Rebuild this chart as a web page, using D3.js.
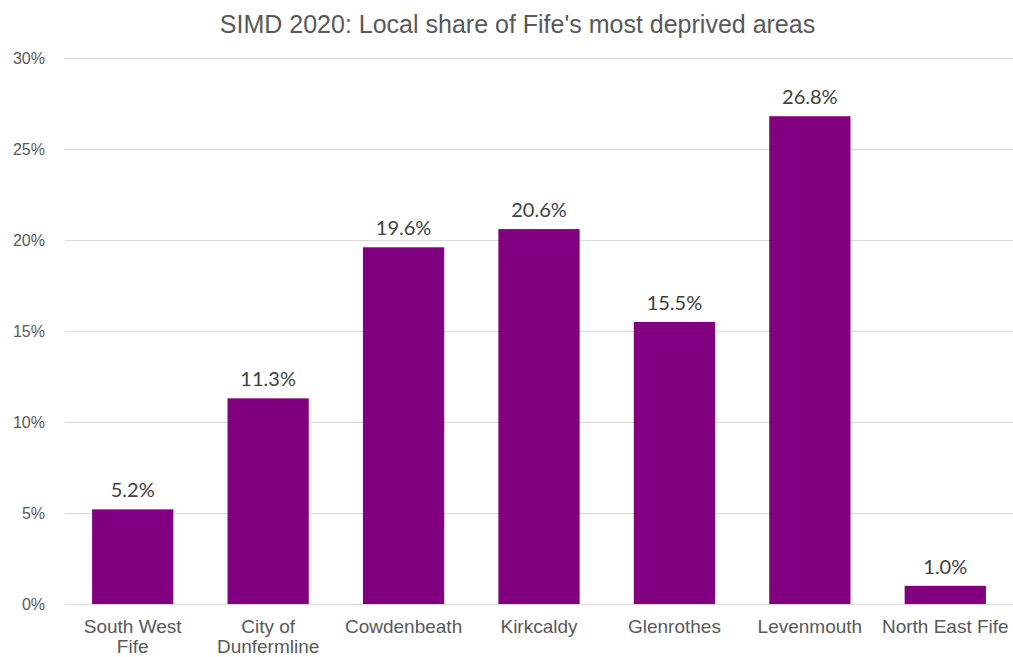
<!DOCTYPE html>
<html>
<head>
<meta charset="utf-8">
<script src="https://cdn.jsdelivr.net/npm/d3@7"></script>
<style>
  body { margin: 0; background: #fff; }
</style>
</head>
<body>
<div id="chart"></div>
<script>
const areas = ["South West Fife", "City of Dunfermline", "Cowdenbeath", "Kirkcaldy", "Glenrothes", "Levenmouth", "North East Fife"];
const areaLines = [["South West", "Fife"], ["City of", "Dunfermline"], ["Cowdenbeath"], ["Kirkcaldy"], ["Glenrothes"], ["Levenmouth"], ["North East Fife"]];
const shares = [5.2, 11.3, 19.6, 20.6, 15.5, 26.8, 1.0];
const yTicks = [0, 5, 10, 15, 20, 25, 30];

const width = 1013, height = 657;
const margin = { top: 58, right: 0, bottom: 53, left: 65 };

const svg = d3.select("#chart").append("svg")
  .attr("width", width)
  .attr("height", height);

const x = d3.scaleBand()
  .domain(areas)
  .range([margin.left, width - margin.right])
  .paddingInner(0.4)
  .paddingOuter(0.2);

const y = d3.scaleLinear()
  .domain([0, 30])
  .range([height - margin.bottom, margin.top]);

// gridlines + y labels
const yAxis = svg.append("g")
  .attr("transform", `translate(${margin.left},0)`)
  .call(d3.axisLeft(y).tickValues(yTicks).tickSize(-(width - margin.left - margin.right)).tickFormat(d => d + "%").tickPadding(20))
  .call(g => g.select(".domain").remove());
yAxis.selectAll(".tick line").attr("stroke", "#d9d9d9").attr("stroke-width", 1);
yAxis.selectAll(".tick text")
  .attr("fill", "#595959")
  .style("font-family", "'Liberation Sans', Arial, sans-serif")
  .style("font-size", "16px");

// bars
svg.append("g")
  .attr("fill", "#800080")
  .selectAll("rect")
  .data(shares)
  .join("rect")
  .attr("x", (d, i) => x(areas[i]))
  .attr("y", d => y(d))
  .attr("width", x.bandwidth())
  .attr("height", d => y(0) - y(d));

// data labels
svg.append("g")
  .selectAll("text")
  .data(shares)
  .join("text")
  .attr("x", (d, i) => x(areas[i]) + x.bandwidth() / 2)
  .attr("y", d => y(d) - 12)
  .attr("text-anchor", "middle")
  .attr("fill", "#404040")
  .style("font-family", "Lato, 'Open Sans', sans-serif")
  .style("font-size", "20px")
  .text(d => d.toFixed(1) + "%");

// x labels (two-line ones wrap like the original)
svg.append("g")
  .selectAll("text")
  .data(areas)
  .join("text")
  .attr("x", d => x(d) + x.bandwidth() / 2)
  .attr("y", height - margin.bottom + 29)
  .attr("text-anchor", "middle")
  .attr("fill", "#595959")
  .style("font-family", "'Liberation Sans', Arial, sans-serif")
  .style("font-size", "19px")
  .selectAll("tspan")
  .data((d, i) => areaLines[i])
  .join("tspan")
  .attr("x", function () { return this.parentNode.getAttribute("x"); })
  .attr("dy", (d, i) => i === 0 ? 0 : 19.5)
  .text(d => d);

// title
svg.append("text")
  .attr("x", 517.5)
  .attr("y", 33)
  .attr("text-anchor", "middle")
  .attr("fill", "#595959")
  .style("font-family", "'Liberation Sans', Arial, sans-serif")
  .style("font-size", "25px")
  .text("SIMD 2020: Local share of Fife's most deprived areas");
</script>
</body>
</html>
